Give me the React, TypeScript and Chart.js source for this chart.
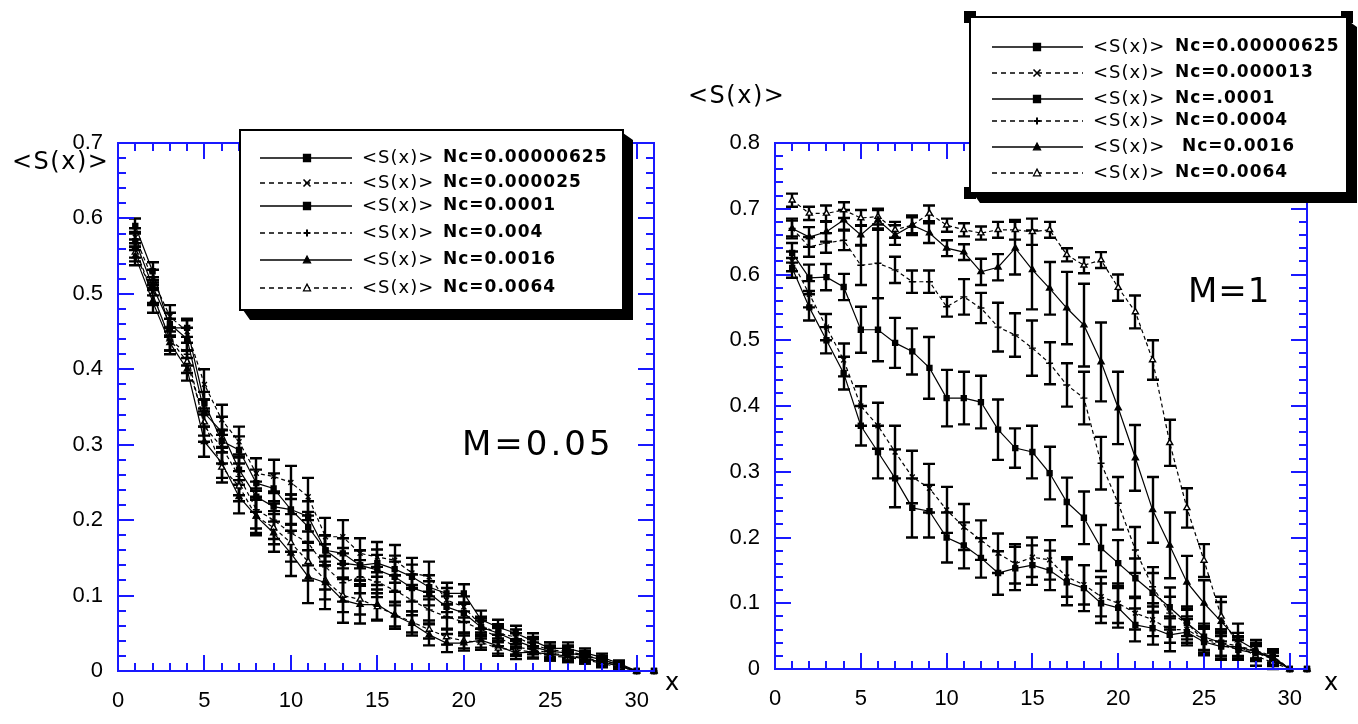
import React, { useEffect, useRef } from "react";
import { Chart, registerables } from "chart.js";

Chart.register(...registerables);

// ---------- data ----------
const X_VALUES = [1, 2, 3, 4, 5, 6, 7, 8, 9, 10, 11, 12, 13, 14, 15, 16, 17, 18, 19, 20, 21, 22, 23, 24, 25, 26, 27, 28, 29, 30, 31];
const X_TICKS = [0, 5, 10, 15, 20, 25, 30];
const Y_TICKS_LEFT = [0, 0.1, 0.2, 0.3, 0.4, 0.5, 0.6, 0.7];
const Y_TICKS_RIGHT = [0, 0.1, 0.2, 0.3, 0.4, 0.5, 0.6, 0.7, 0.8];

const LEFT_NAMES = ["Nc=0.00000625", "Nc=0.000025", "Nc=0.0001", "Nc=0.004", "Nc=0.0016", "Nc=0.0064"];
const RIGHT_NAMES = ["Nc=0.00000625", "Nc=0.000013", "Nc=.0001", "Nc=0.0004", " Nc=0.0016", "Nc=0.0064"];

// M = 0.05
const L1 = [0.59, 0.53, 0.455, 0.455, 0.355, 0.305, 0.293, 0.249, 0.242, 0.214, 0.205, 0.16, 0.156, 0.14, 0.143, 0.135, 0.125, 0.111, 0.103, 0.103, 0.068, 0.058, 0.05, 0.04, 0.03, 0.03, 0.024, 0.018, 0.01, 0, 0];
const L1_ERR = [0.01, 0.012, 0.012, 0.012, 0.015, 0.015, 0.018, 0.018, 0.02, 0.02, 0.02, 0.02, 0.02, 0.02, 0.018, 0.018, 0.016, 0.016, 0.014, 0.012, 0.012, 0.01, 0.01, 0.01, 0.008, 0.008, 0.006, 0.005, 0.004, 0, 0];
const L2 = [0.575, 0.52, 0.47, 0.45, 0.38, 0.333, 0.304, 0.262, 0.258, 0.25, 0.231, 0.178, 0.178, 0.156, 0.151, 0.147, 0.13, 0.125, 0.094, 0.085, 0.06, 0.05, 0.045, 0.035, 0.028, 0.026, 0.021, 0.015, 0.008, 0, 0];
const L2_ERR = [0.012, 0.012, 0.015, 0.015, 0.02, 0.02, 0.02, 0.02, 0.022, 0.022, 0.025, 0.025, 0.022, 0.02, 0.02, 0.02, 0.02, 0.02, 0.016, 0.014, 0.012, 0.012, 0.01, 0.01, 0.01, 0.008, 0.006, 0.005, 0.004, 0, 0];
const L3 = [0.57, 0.51, 0.46, 0.44, 0.342, 0.317, 0.267, 0.231, 0.218, 0.214, 0.191, 0.16, 0.143, 0.14, 0.134, 0.125, 0.11, 0.103, 0.085, 0.077, 0.058, 0.05, 0.04, 0.032, 0.026, 0.024, 0.02, 0.015, 0.008, 0, 0];
const L3_ERR = [0.012, 0.012, 0.015, 0.015, 0.018, 0.02, 0.02, 0.02, 0.02, 0.02, 0.02, 0.02, 0.02, 0.02, 0.02, 0.02, 0.018, 0.016, 0.014, 0.012, 0.012, 0.01, 0.01, 0.01, 0.008, 0.008, 0.006, 0.005, 0.004, 0, 0];
const L4 = [0.56, 0.5, 0.44, 0.42, 0.324, 0.297, 0.258, 0.214, 0.2, 0.183, 0.17, 0.138, 0.117, 0.125, 0.118, 0.107, 0.094, 0.081, 0.072, 0.065, 0.055, 0.045, 0.032, 0.028, 0.024, 0.02, 0.018, 0.012, 0.006, 0, 0];
const L4_ERR = [0.012, 0.015, 0.015, 0.015, 0.02, 0.022, 0.025, 0.025, 0.025, 0.025, 0.03, 0.03, 0.025, 0.022, 0.02, 0.02, 0.02, 0.018, 0.016, 0.014, 0.012, 0.012, 0.01, 0.01, 0.008, 0.008, 0.006, 0.005, 0.004, 0, 0];
const L5 = [0.55, 0.49, 0.435, 0.4, 0.304, 0.276, 0.231, 0.205, 0.183, 0.156, 0.125, 0.117, 0.094, 0.088, 0.088, 0.074, 0.063, 0.048, 0.037, 0.037, 0.041, 0.033, 0.024, 0.025, 0.022, 0.02, 0.016, 0.012, 0.007, 0, 0];
const L5_ERR = [0.012, 0.015, 0.015, 0.015, 0.02, 0.02, 0.022, 0.025, 0.025, 0.03, 0.035, 0.035, 0.03, 0.025, 0.02, 0.018, 0.016, 0.014, 0.012, 0.01, 0.01, 0.01, 0.008, 0.008, 0.008, 0.006, 0.006, 0.005, 0.004, 0, 0];
const L6 = [0.555, 0.5, 0.44, 0.41, 0.33, 0.27, 0.245, 0.205, 0.19, 0.17, 0.145, 0.12, 0.1, 0.095, 0.085, 0.075, 0.065, 0.055, 0.045, 0.04, 0.038, 0.03, 0.028, 0.025, 0.02, 0.018, 0.015, 0.01, 0.005, 0, 0];
const L6_ERR = [0.012, 0.012, 0.015, 0.015, 0.018, 0.02, 0.02, 0.022, 0.022, 0.025, 0.025, 0.025, 0.022, 0.02, 0.018, 0.016, 0.014, 0.012, 0.01, 0.01, 0.01, 0.01, 0.008, 0.008, 0.006, 0.006, 0.005, 0.005, 0.004, 0, 0];

// M = 1
const R1 = [0.61, 0.55, 0.5, 0.45, 0.37, 0.33, 0.29, 0.245, 0.24, 0.2, 0.188, 0.169, 0.146, 0.153, 0.158, 0.15, 0.132, 0.123, 0.1, 0.093, 0.067, 0.062, 0.052, 0.056, 0.041, 0.034, 0.034, 0.026, 0.018, 0, 0];
const R1_ERR = [0.015, 0.02, 0.02, 0.025, 0.03, 0.04, 0.044, 0.045, 0.04, 0.038, 0.035, 0.03, 0.033, 0.033, 0.03, 0.03, 0.035, 0.035, 0.03, 0.03, 0.025, 0.025, 0.025, 0.02, 0.02, 0.02, 0.015, 0.012, 0.01, 0, 0];
const R2 = [0.62, 0.57, 0.52, 0.47, 0.4, 0.37, 0.33, 0.292, 0.275, 0.242, 0.216, 0.196, 0.176, 0.16, 0.17, 0.166, 0.14, 0.128, 0.11, 0.1, 0.085, 0.075, 0.06, 0.06, 0.045, 0.04, 0.035, 0.028, 0.02, 0, 0];
const R2_ERR = [0.015, 0.02, 0.02, 0.025, 0.03, 0.035, 0.04, 0.04, 0.037, 0.035, 0.035, 0.03, 0.03, 0.03, 0.03, 0.03, 0.03, 0.03, 0.03, 0.03, 0.025, 0.025, 0.02, 0.02, 0.02, 0.02, 0.015, 0.012, 0.01, 0, 0];
const R3 = [0.633, 0.595, 0.596, 0.581, 0.516, 0.516, 0.496, 0.483, 0.458, 0.412, 0.412, 0.406, 0.364, 0.336, 0.33, 0.298, 0.254, 0.23, 0.184, 0.161, 0.138, 0.116, 0.094, 0.07, 0.049, 0.04, 0.029, 0.024, 0.018, 0, 0];
const R3_ERR = [0.015, 0.02, 0.02, 0.02, 0.035, 0.048, 0.038, 0.035, 0.047, 0.043, 0.04, 0.04, 0.046, 0.03, 0.04, 0.04, 0.037, 0.04, 0.035, 0.035, 0.03, 0.03, 0.03, 0.025, 0.02, 0.02, 0.015, 0.012, 0.01, 0, 0];
const R4 = [0.67, 0.642, 0.648, 0.652, 0.614, 0.617, 0.607, 0.589, 0.589, 0.551, 0.566, 0.549, 0.52, 0.508, 0.488, 0.465, 0.432, 0.412, 0.313, 0.252, 0.181, 0.125, 0.085, 0.07, 0.043, 0.036, 0.03, 0.025, 0.015, 0, 0];
const R4_ERR = [0.015, 0.015, 0.015, 0.015, 0.03, 0.053, 0.02, 0.017, 0.017, 0.015, 0.027, 0.023, 0.037, 0.033, 0.042, 0.032, 0.033, 0.04, 0.04, 0.04, 0.035, 0.03, 0.025, 0.02, 0.02, 0.02, 0.015, 0.012, 0.01, 0, 0];
const R5 = [0.67, 0.657, 0.665, 0.683, 0.66, 0.683, 0.66, 0.675, 0.663, 0.64, 0.634, 0.604, 0.611, 0.64, 0.607, 0.579, 0.549, 0.523, 0.467, 0.397, 0.321, 0.242, 0.188, 0.132, 0.1, 0.072, 0.044, 0.029, 0.015, 0, 0];
const R5_ERR = [0.012, 0.015, 0.015, 0.015, 0.015, 0.015, 0.015, 0.015, 0.015, 0.012, 0.012, 0.02, 0.02, 0.04, 0.06, 0.04, 0.055, 0.063, 0.06, 0.055, 0.05, 0.05, 0.05, 0.04, 0.035, 0.03, 0.025, 0.015, 0.01, 0, 0];
const R6 = [0.713, 0.693, 0.693, 0.698, 0.686, 0.688, 0.668, 0.675, 0.693, 0.675, 0.668, 0.663, 0.668, 0.668, 0.665, 0.668, 0.63, 0.614, 0.622, 0.58, 0.543, 0.47, 0.344, 0.245, 0.165, 0.08, 0.035, 0.02, 0.01, 0, 0];
const R6_ERR = [0.01, 0.01, 0.012, 0.012, 0.012, 0.012, 0.012, 0.012, 0.012, 0.01, 0.01, 0.01, 0.012, 0.015, 0.02, 0.012, 0.01, 0.012, 0.012, 0.02, 0.025, 0.03, 0.035, 0.03, 0.025, 0.03, 0.02, 0.015, 0.01, 0, 0];

// ---------- styles / layout ----------
const FONT = '"DejaVu Sans", "Liberation Sans", sans-serif';
const TICK_FONT = '"Liberation Sans", Arial, sans-serif';
const BLUE = "rgb(25,25,255)";

const SERIES_STYLE = [
  { dash: [], point: "rect", open: false },
  { dash: [4, 3], point: "crossRot", open: false },
  { dash: [], point: "rect", open: false },
  { dash: [4, 3], point: "cross", open: false },
  { dash: [], point: "triangle", open: false },
  { dash: [4, 3], point: "triangle", open: true },
];

const LEFT_PANEL = {
  offsetX: 0,
  padding: { left: 58, right: 25, top: 143, bottom: 8 },
  yMax: 0.7,
  yTicks: Y_TICKS_LEFT,
  series: [L1, L2, L3, L4, L5, L6],
  errors: [L1_ERR, L2_ERR, L3_ERR, L4_ERR, L5_ERR, L6_ERR],
  names: LEFT_NAMES,
  legend: { x1: 240, y1: 130, x2: 623, y2: 310, rows: [158, 183, 206, 233, 260, 288], lx1: 260, lx2: 352, mx: 307, sx: 362, nx: 443, handles: false },
  title: { text: "<S(x)>", x: 12, y: 163 },
  xLabel: { x: 665, y: 684 },
  note: { text: "M=0.05", x: 462, y: 455, ls: 3 },
};

const RIGHT_PANEL = {
  offsetX: 679,
  padding: { left: 36, right: 51, top: 143, bottom: 10 },
  yMax: 0.8,
  yTicks: Y_TICKS_RIGHT,
  series: [R1, R2, R3, R4, R5, R6],
  errors: [R1_ERR, R2_ERR, R3_ERR, R4_ERR, R5_ERR, R6_ERR],
  names: RIGHT_NAMES,
  legend: { x1: 291, y1: 17, x2: 668, y2: 193, rows: [47, 73, 99, 121, 147, 173], lx1: 313, lx2: 404, mx: 358, sx: 414, nx: 496, handles: true },
  title: { text: "<S(x)>", x: 9, y: 97 },
  xLabel: { x: 645, y: 684 },
  note: { text: "M=1", x: 509, y: 302, ls: 1 },
};

function drawMarker(ctx: CanvasRenderingContext2D, style: any, x: number, y: number, r: number) {
  ctx.save();
  ctx.setLineDash([]);
  ctx.strokeStyle = "#000";
  ctx.fillStyle = style.open ? "#fff" : "#000";
  ctx.lineWidth = 1.3;
  ctx.beginPath();
  if (style.point === "rect") {
    ctx.rect(x - r, y - r, 2 * r, 2 * r);
    ctx.fill();
    ctx.stroke();
  } else if (style.point === "triangle") {
    ctx.moveTo(x, y - r * 1.1);
    ctx.lineTo(x + r, y + r * 0.8);
    ctx.lineTo(x - r, y + r * 0.8);
    ctx.closePath();
    ctx.fill();
    ctx.stroke();
  } else if (style.point === "cross") {
    ctx.moveTo(x - r, y);
    ctx.lineTo(x + r, y);
    ctx.moveTo(x, y - r);
    ctx.lineTo(x, y + r);
    ctx.lineWidth = 2;
    ctx.stroke();
  } else {
    ctx.moveTo(x - r, y - r);
    ctx.lineTo(x + r, y + r);
    ctx.moveTo(x + r, y - r);
    ctx.lineTo(x - r, y + r);
    ctx.lineWidth = 1.6;
    ctx.stroke();
  }
  ctx.restore();
}

function makePlugin(cfg: any) {
  return {
    id: "panelDecor",
    beforeDraw(chart: any) {
      chart.ctx.letterSpacing = "0px";
    },
    beforeDatasetsDraw(chart: any) {
      const ctx = chart.ctx as CanvasRenderingContext2D;
      const xs = chart.scales.x;
      const ys = chart.scales.y;
      ctx.save();
      ctx.strokeStyle = "#000";
      ctx.lineWidth = 2.4;
      ctx.setLineDash([]);
      cfg.series.forEach((s: number[], si: number) => {
        const err = cfg.errors[si];
        s.forEach((v: number, i: number) => {
          const e = err[i];
          if (!e) return;
          const px = Math.round(xs.getPixelForValue(X_VALUES[i]));
          const pTop = ys.getPixelForValue(v + e);
          const pBot = ys.getPixelForValue(v - e);
          ctx.beginPath();
          ctx.moveTo(px, pTop);
          ctx.lineTo(px, pBot);
          ctx.moveTo(px - 6, pTop);
          ctx.lineTo(px + 6, pTop);
          ctx.moveTo(px - 6, pBot);
          ctx.lineTo(px + 6, pBot);
          ctx.stroke();
        });
      });
      ctx.restore();
    },
    afterDraw(chart: any) {
      const ctx = chart.ctx as CanvasRenderingContext2D;
      const { left, right, top, bottom } = chart.chartArea;
      const xs = chart.scales.x;
      const ys = chart.scales.y;
      ctx.save();
      ctx.setLineDash([]);
      // frame + inward ticks
      ctx.strokeStyle = BLUE;
      ctx.lineWidth = 2;
      ctx.strokeRect(left, top, right - left, bottom - top);
      ctx.beginPath();
      for (let i = 0; i <= 31; i++) {
        const px = Math.round(xs.getPixelForValue(i));
        const len = i % 5 === 0 ? 16 : 8;
        ctx.moveTo(px, bottom);
        ctx.lineTo(px, bottom - len);
        ctx.moveTo(px, top);
        ctx.lineTo(px, top + len);
      }
      const n = Math.round(cfg.yMax / 0.02);
      for (let i = 0; i <= n; i++) {
        const py = Math.round(ys.getPixelForValue(i * 0.02));
        const len = i % 5 === 0 ? 16 : 8;
        ctx.moveTo(left, py);
        ctx.lineTo(left + len, py);
        ctx.moveTo(right, py);
        ctx.lineTo(right - len, py);
      }
      ctx.stroke();

      // texts
      ctx.fillStyle = "#000";
      ctx.textBaseline = "middle";
      ctx.textAlign = "left";
      (ctx as any).letterSpacing = "1.5px";
      ctx.font = `24px ${FONT}`;
      ctx.fillText(cfg.title.text, cfg.title.x, cfg.title.y);
      ctx.fillText("x", cfg.xLabel.x, cfg.xLabel.y);
      ctx.textBaseline = "alphabetic";
      (ctx as any).letterSpacing = `${cfg.note.ls}px`;
      ctx.font = `34px ${FONT}`;
      ctx.fillText(cfg.note.text, cfg.note.x, cfg.note.y);

      // legend
      const L = cfg.legend;
      ctx.fillStyle = "#000";
      ctx.beginPath();
      ctx.moveTo(L.x2, L.y1 + 3);
      ctx.lineTo(L.x2 + 10, L.y1 + 10);
      ctx.lineTo(L.x2 + 10, L.y2 + 10);
      ctx.lineTo(L.x1 + 10, L.y2 + 10);
      ctx.lineTo(L.x1 + 3, L.y2);
      ctx.lineTo(L.x2, L.y2);
      ctx.closePath();
      ctx.fill();
      if (L.handles) {
        ctx.fillRect(L.x1 - 6, L.y1 - 6, 12, 12);
        ctx.fillRect(L.x1 - 6, L.y2 - 6, 12, 12);
        ctx.fillRect(L.x2 - 6, L.y1 - 6, 12, 12);
        ctx.fillRect(L.x2 - 6, L.y2 - 6, 12, 12);
      }
      ctx.fillStyle = "#fff";
      ctx.fillRect(L.x1 + 1, L.y1 + 1, L.x2 - L.x1 - 2, L.y2 - L.y1 - 2);
      ctx.strokeStyle = "#000";
      ctx.lineWidth = 2;
      ctx.strokeRect(L.x1, L.y1, L.x2 - L.x1, L.y2 - L.y1);
      ctx.textBaseline = "middle";
      cfg.names.forEach((name: string, i: number) => {
        const st = SERIES_STYLE[i];
        const y = L.rows[i];
        ctx.strokeStyle = "#000";
        ctx.lineWidth = 1.5;
        ctx.setLineDash(st.dash.length ? [5, 4] : []);
        ctx.beginPath();
        ctx.moveTo(L.lx1, y);
        ctx.lineTo(L.lx2, y);
        ctx.stroke();
        ctx.setLineDash([]);
        drawMarker(ctx, st, L.mx, y, 3.5);
        ctx.fillStyle = "#000";
        (ctx as any).letterSpacing = "1px";
        ctx.font = `18px ${FONT}`;
        ctx.fillText("<S(x)>", L.sx, y);
        ctx.font = `bold 17px ${FONT}`;
        ctx.fillText(name, L.nx, y);
      });
      ctx.restore();
    },
  };
}

function buildChart(canvas: HTMLCanvasElement, cfg: any) {
  const tickFont = { family: TICK_FONT, size: 22 };
  return new Chart(canvas, {
    type: "line",
    data: {
      datasets: cfg.series.map((s: number[], i: number) => ({
        label: cfg.names[i],
        data: X_VALUES.map((x, j) => ({ x, y: s[j] })),
        borderColor: "#000",
        borderWidth: 1.2,
        borderDash: SERIES_STYLE[i].dash,
        pointStyle: SERIES_STYLE[i].point,
        pointRadius: 3.5,
        pointBackgroundColor: SERIES_STYLE[i].open ? "#fff" : "#000",
        pointBorderColor: "#000",
        pointBorderWidth: 1.4,
        tension: 0,
        fill: false,
        clip: false,
      })),
    },
    options: {
      responsive: false,
      animation: false,
      devicePixelRatio: 1,
      events: [],
      layout: { padding: cfg.padding },
      plugins: { legend: { display: false }, tooltip: { enabled: false } },
      scales: {
        x: {
          type: "linear",
          min: 0,
          max: 31,
          afterBuildTicks: (s: any) => {
            s.ticks = X_TICKS.map((v) => ({ value: v }));
          },
          afterFit: (s: any) => {
            s.height = 45;
          },
          grid: { display: false, drawTicks: false },
          border: { display: false },
          ticks: { padding: 17, font: tickFont, color: "#000", maxRotation: 0, autoSkip: false },
        },
        y: {
          type: "linear",
          min: 0,
          max: cfg.yMax,
          afterBuildTicks: (s: any) => {
            s.ticks = cfg.yTicks.map((v: number) => ({ value: v }));
          },
          afterFit: (s: any) => {
            s.width = 60;
          },
          grid: { display: false, drawTicks: false },
          border: { display: false },
          ticks: {
            padding: 15,
            font: tickFont,
            color: "#000",
            autoSkip: false,
            callback: (v: any) => (Number(v) === 0 ? "0" : Number(v).toFixed(1)),
          },
        },
      },
    } as any,
    plugins: [makePlugin(cfg)],
  });
}

function Panel({ cfg }: { cfg: any }) {
  const ref = useRef<HTMLCanvasElement | null>(null);
  useEffect(() => {
    if (!ref.current) return;
    const chart = buildChart(ref.current, cfg);
    return () => chart.destroy();
  }, [cfg]);
  return (
    <canvas
      ref={ref}
      width={679}
      height={724}
      style={{ position: "absolute", left: cfg.offsetX, top: 0, width: 679, height: 724 }}
    />
  );
}

export default function App() {
  return (
    <div style={{ position: "fixed", left: 0, top: 0, width: 1358, height: 724, background: "#fff", overflow: "hidden" }}>
      <Panel cfg={LEFT_PANEL} />
      <Panel cfg={RIGHT_PANEL} />
    </div>
  );
}
